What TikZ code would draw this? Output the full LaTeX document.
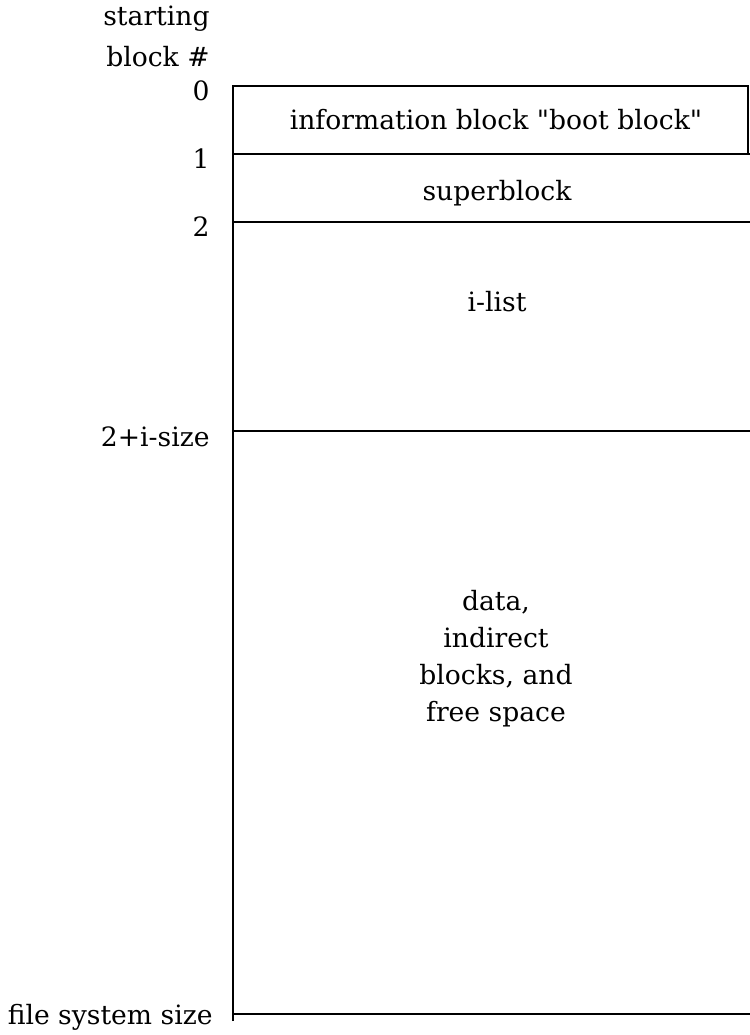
\documentclass[tikz,border=0pt]{standalone}
\usepackage{fontspec}
\setmainfont{DejaVu Serif}
\begin{document}
\begin{tikzpicture}[x=0.5pt,y=-0.5pt,
  rule/.style={line width=1pt},
  lab/.style={anchor=east,inner sep=0pt,font=\fontsize{13.3}{16}\selectfont},
  area/.style={inner sep=0pt,font=\fontsize{13.3}{18.5}\selectfont,align=center}]
\useasboundingbox (0,0) rectangle (750,1035);
% structure lines
\coordinate (tl) at (233,86);
\coordinate (tr) at (748,86);
\coordinate (l1) at (233,154);
\coordinate (r1) at (750,154);
\coordinate (r1b) at (748,154);
\coordinate (l2) at (233,222);
\coordinate (r2) at (750,222);
\coordinate (l3) at (233,431);
\coordinate (r3) at (750,431);
\coordinate (l4) at (233,1014);
\coordinate (r4) at (750,1014);
\coordinate (bot) at (233,1021);
\draw[rule] (bot) -- (tl) -- (tr) -- (r1b);
\draw[rule] (l1) -- (r1);
\draw[rule] (l2) -- (r2);
\draw[rule] (l3) -- (r3);
\draw[rule] (l4) -- (r4);
% left labels
\node[lab] (h1) at (210,19) {starting};
\node[lab] (h2) at (210,57) {block \#};
\node[lab] (n0) at (210,91) {0};
\node[lab] (n1) at (210,159) {1};
\node[lab] (n2) at (210,227) {2};
\node[lab] (n3) at (210,437) {2+i-size};
\node[lab] (n4) at (213,1017) {file system size};
% area labels
\node[area] (boot) at (496,120) {information block \textquotedbl boot block\textquotedbl};
\node[area] (sb) at (497,193) {superblock};
\node[area] (il) at (497,302) {i-list};
\node[area] (data) at (496,659) {data,\\indirect\\blocks, and\\free space};
\end{tikzpicture}
\end{document}
